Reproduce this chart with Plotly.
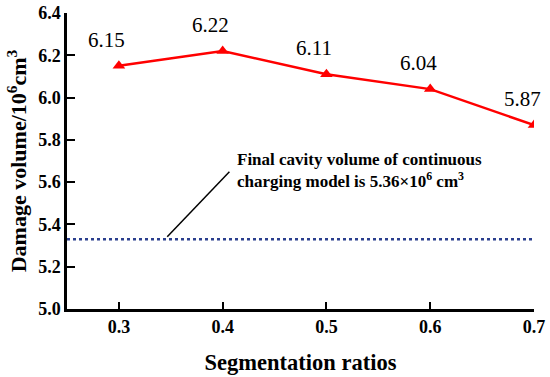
import plotly.graph_objects as go

ratios = [0.3, 0.4, 0.5, 0.6, 0.7]
damage_volume = [6.15, 6.22, 6.11, 6.04, 5.87]
continuous_volume = 5.33
x_ticks = [0.3, 0.4, 0.5, 0.6, 0.7]
y_ticks = [5.0, 5.2, 5.4, 5.6, 5.8, 6.0, 6.2, 6.4]

FONT = "Liberation Serif, Times New Roman, serif"

fig = go.Figure()

fig.add_trace(go.Scatter(
    x=[0.25, 0.7], y=[continuous_volume, continuous_volume],
    mode="lines", line=dict(color="#2B3F8E", width=2.5, dash="dot"),
    showlegend=False, hoverinfo="skip"))

fig.add_trace(go.Scatter(
    x=ratios, y=damage_volume, mode="lines+markers",
    line=dict(color="#FF0000", width=2.5),
    marker=dict(symbol="triangle-up", size=11, color="#FF0000"),
    showlegend=False))

for xv, yv in zip(ratios, damage_volume):
    fig.add_annotation(x=xv, y=yv, text=f"{yv:.2f}", showarrow=False,
                       yshift=26, xshift=-12,
                       font=dict(family=FONT, size=21, color="black"))

fig.add_shape(type="line", x0=0.3466, y0=5.342, x1=0.4065, y1=5.649,
              xref="x", yref="y", line=dict(color="black", width=1.5))

fig.add_annotation(
    x=0.4123, y=5.655, xref="x", yref="y", xanchor="left", yanchor="middle",
    align="left", showarrow=False,
    text="<b>Final cavity volume of continuous<br>charging model is 5.36×10<sup>6</sup> cm<sup>3</sup></b>",
    font=dict(family=FONT, size=17, color="black"))

fig.update_xaxes(
    range=[0.25, 0.7], tickvals=x_ticks, ticktext=[f"{v:.1f}" for v in x_ticks],
    showline=True, linecolor="black", linewidth=2.5, ticks="inside",
    ticklen=7, tickwidth=2, tickcolor="black", showgrid=False, zeroline=False,
    automargin=False, ticklabeloverflow="allow",
    tickfont=dict(family=FONT, size=18, color="black", weight="bold"),
    title=dict(text="<b>Segmentation ratios</b>", standoff=18,
               font=dict(family=FONT, size=22.5, color="black")))

fig.update_yaxes(
    range=[5.0, 6.4], tickvals=y_ticks, ticktext=[f"{v:.1f}" for v in y_ticks],
    showline=True, linecolor="black", linewidth=2.5, ticks="inside",
    ticklen=8, tickwidth=2, tickcolor="black", showgrid=False, zeroline=False,
    automargin=False, ticklabeloverflow="allow",
    tickfont=dict(family=FONT, size=18, color="black", weight="bold"),
    title=dict(text="<b>Damage volume/10<sup>6</sup>cm<sup>3</sup></b>", standoff=6,
               font=dict(family=FONT, size=22, color="black")))

fig.update_layout(
    width=550, height=377, margin=dict(l=67, r=16, t=13, b=68),
    plot_bgcolor="white", paper_bgcolor="white")

fig.write_html("out.html", config={"displayModeBar": False},
               post_script="document.body.style.margin='0';document.body.style.overflow='hidden';")
